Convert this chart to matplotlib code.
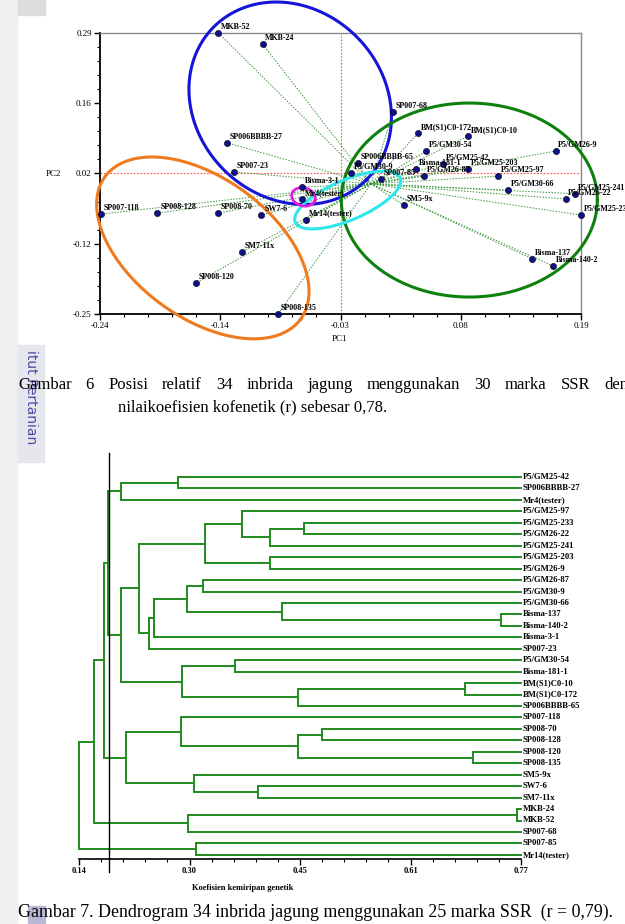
import numpy as np
import matplotlib.pyplot as plt
from matplotlib.patches import Rectangle

# ---- Gambar 6: PCA scatter ----
pca_names = [
    "MKB-52", "MKB-24", "SP006BBBB-27", "SP007-23", "SP007-118", "SP008-128",
    "SP008-70", "SW7-6", "SM7-11x", "SP008-120", "SP008-135", "Bisma-3-1",
    "Mr4(tester)", "Mr14(tester)", "SP007-68", "BM(S1)C0-172", "BM(S1)C0-10",
    "P5/GM30-54", "P5/GM26-9", "SP006BBBB-65", "P5/GM30-9", "Bisma-181-1",
    "P5/GM25-42", "P5/GM25-203", "P5/GM26-87", "SP007-85", "P5/GM25-97",
    "P5/GM30-66", "P5/GM25-241", "P5/GM26-22", "P5/GM25-233", "SM5-9x",
    "Bisma-137", "Bisma-140-2",
]
pc1 = [
    -0.138, -0.098, -0.130, -0.124, -0.244, -0.193,
    -0.138, -0.099, -0.117, -0.158, -0.084, -0.062,
    -0.062, -0.059, 0.020, 0.043, 0.088,
    0.050, 0.167, -0.012, -0.018, 0.041,
    0.065, 0.088, 0.048, 0.009, 0.115,
    0.124, 0.185, 0.176, 0.190, 0.030,
    0.146, 0.165,
]
pc2 = [
    0.290, 0.269, 0.079, 0.023, -0.058, -0.056,
    -0.056, -0.060, -0.131, -0.190, -0.250, -0.006,
    -0.029, -0.069, 0.138, 0.098, 0.092,
    0.063, 0.063, 0.040, 0.021, 0.029,
    0.038, 0.029, 0.015, 0.009, 0.015,
    -0.012, -0.019, -0.029, -0.060, -0.041,
    -0.144, -0.158,
]
pca_xlabels = ["-0.24", "-0.14", "-0.03", "0.08", "0.19"]
pca_ylabels = ["-0.25", "-0.12", "0.02", "0.16", "0.29"]

# ---- Gambar 7: dendrogram ----
leaves = [
    "P5/GM25-42", "SP006BBBB-27", "Mr4(tester)", "P5/GM25-97", "P5/GM25-233",
    "P5/GM26-22", "P5/GM25-241", "P5/GM25-203", "P5/GM26-9", "P5/GM26-87",
    "P5/GM30-9", "P5/GM30-66", "Bisma-137", "Bisma-140-2", "Bisma-3-1",
    "SP007-23", "P5/GM30-54", "Bisma-181-1", "BM(S1)C0-10", "BM(S1)C0-172",
    "SP006BBBB-65", "SP007-118", "SP008-70", "SP008-128", "SP008-120",
    "SP008-135", "SM5-9x", "SW7-6", "SM7-11x", "MKB-24", "MKB-52",
    "SP007-68", "SP007-85", "Mr14(tester)",
]
# (child a, child b, similarity); node ids >= 34 are earlier merges
merges = [
    (0, 1, 0.281), (34, 2, 0.200), (4, 5, 0.461), (36, 6, 0.412),
    (3, 37, 0.373), (7, 8, 0.412), (38, 39, 0.320), (9, 10, 0.317),
    (12, 13, 0.741), (11, 42, 0.430), (41, 43, 0.2935), (44, 14, 0.247),
    (45, 15, 0.240), (40, 46, 0.225), (16, 17, 0.362), (18, 19, 0.690),
    (49, 20, 0.4525), (48, 50, 0.287), (47, 51, 0.200), (35, 52, 0.182),
    (22, 23, 0.486), (24, 25, 0.701), (54, 55, 0.4525), (21, 56, 0.286),
    (27, 28, 0.395), (26, 58, 0.304), (57, 59, 0.2065), (53, 60, 0.175),
    (29, 30, 0.765), (62, 31, 0.295), (61, 63, 0.162), (32, 33, 0.307),
    (64, 65, 0.140),
]
cut_value = 0.183
sim_labels = ["0.14", "0.30", "0.45", "0.61", "0.77"]

caption6_line1 = "Gambar 6 Posisi relatif 34 inbrida jagung menggunakan 30 marka SSR dengan"
caption6_line2 = "nilaikoefisien kofenetik (r) sebesar 0,78."
caption7 = "Gambar 7. Dendrogram 34 inbrida jagung menggunakan 25 marka SSR  (r = 0,79)."

W, H = 625, 924
SERIF = "Liberation Serif"


def fig_box(x0, y0, x1, y1):
    return [x0 / W, 1 - y1 / H, (x1 - x0) / W, (y1 - y0) / H]


def ring(ax, cx, cy, a, b, ang, color, lw=2.2):
    # ellipse sized in pixels, placed at a data centre
    t = np.linspace(0, 2 * np.pi, 300)
    r = np.deg2rad(ang)
    dx = a * np.cos(t) * np.cos(r) - b * np.sin(t) * np.sin(r)
    dy = a * np.cos(t) * np.sin(r) + b * np.sin(t) * np.cos(r)
    x0, x1 = ax.get_xlim()
    y0, y1 = ax.get_ylim()
    sx = (x1 - x0) / ax.bbox.width
    sy = (y1 - y0) / ax.bbox.height
    ax.plot(cx + dx * sx, cy + dy * sy, color=color, lw=lw, clip_on=False, zorder=4)


fig = plt.figure(figsize=(W / 100, H / 100), dpi=100)

# page decorations (scan strip on the left)
fig.add_artist(Rectangle((0, 0), 17 / W, 1, transform=fig.transFigure,
                         color="#efefef", zorder=0))
fig.add_artist(Rectangle((18 / W, 1 - 15 / H), 27 / W, 15 / H, transform=fig.transFigure,
                         color="#dcdcdc", zorder=0))
fig.add_artist(Rectangle((18 / W, 1 - 462 / H), 26 / W, 117 / H, transform=fig.transFigure,
                         color="#e6e6ee", zorder=0))
fig.text(31 / W, 1 - 350 / H, "itut Pertanian", rotation=-90, ha="center", va="top",
         fontsize=10, color="#4b4ba8", family="DejaVu Sans", zorder=0)
fig.add_artist(Rectangle((28 / W, 0), 17 / W, 18 / H, transform=fig.transFigure,
                         color="#b9b9d6", zorder=0))

# ---- PCA panel ----
ax = fig.add_axes(fig_box(100, 33, 581, 314))
ax.set_xlim(-0.245, 0.19)
ax.set_ylim(-0.25, 0.29)
xt = np.linspace(-0.245, 0.19, 5)
yt = np.linspace(-0.25, 0.29, 5)
ax.set_xticks(xt)
ax.set_xticklabels(pca_xlabels)
ax.set_yticks(yt)
ax.set_yticklabels(pca_ylabels)
ax.set_xticks(np.linspace(-0.245, 0.19, 21), minor=True)
ax.set_yticks(np.linspace(-0.25, 0.29, 21), minor=True)
ax.tick_params(which="major", length=4, width=1, pad=2, labelsize=6.5)
ax.tick_params(which="minor", length=2.2, width=0.8)
for lab in ax.get_xticklabels() + ax.get_yticklabels():
    lab.set_family(SERIF)
for s in ["left", "bottom"]:
    ax.spines[s].set_linewidth(1.3)
for s in ["top", "right"]:
    ax.spines[s].set_color("#8a8a8a")
    ax.spines[s].set_linewidth(1)

ax.axvline(xt[2], color="#ff5050", ls=(0, (1.5, 1.5)), lw=0.8, zorder=1)
ax.axhline(yt[2], color="#ff5050", ls=(0, (1.5, 1.5)), lw=0.8, zorder=1)

for x, y in zip(pc1, pc2):
    ax.plot([0, x], [0, y], color="#3c963c", ls=(0, (1.5, 1.5)), lw=0.7, zorder=2)
ax.scatter(pc1, pc2, s=20, color="#10108a", edgecolors="black", linewidths=0.4,
           zorder=5, clip_on=False)
for name, x, y in zip(pca_names, pc1, pc2):
    ax.annotate(name, (x, y), xytext=(2, 3), textcoords="offset points",
                fontsize=5.8, fontweight="bold", family=SERIF, va="baseline",
                ha="left", zorder=6, annotation_clip=False)

ring(ax, -0.073, 0.155, 108, 94, -45, "#1515d8")
ring(ax, -0.152, -0.123, 121, 70, -36, "#f07a1e")
ring(ax, 0.089, -0.031, 128, 97, 0, "#0e800e")
ring(ax, -0.021, -0.031, 57, 20, 23, "#2ee6ec")
ring(ax, -0.061, -0.025, 12, 9, -15, "#e01ee0", lw=2)

fig.text(340 / W, 1 - 339 / H, "PC1", ha="center", va="center", fontsize=6.5, family=SERIF)
fig.text(53 / W, 1 - 174 / H, "PC2", ha="center", va="center", fontsize=6.5, family=SERIF)

# ---- dendrogram panel ----
row_px = 11.45
top_px, bot_px = 445, 859
ax2 = fig.add_axes(fig_box(79, top_px, 521, bot_px))
ax2.set_xlim(0.14, 0.77)
ax2.set_ylim((bot_px - 477) / row_px, (top_px - 477) / row_px)
for s in ["left", "right", "top"]:
    ax2.spines[s].set_visible(False)
ax2.spines["bottom"].set_linewidth(1.2)
ax2.set_yticks([])
ax2.set_xticks(np.linspace(0.14, 0.77, 5))
ax2.set_xticklabels(sim_labels)
ax2.set_xticks(np.linspace(0.14, 0.77, 21), minor=True)
ax2.tick_params(which="major", length=4, width=1, pad=2, labelsize=6)
ax2.tick_params(which="minor", length=2.5, width=0.8)
for lab in ax2.get_xticklabels():
    lab.set_family(SERIF)
    lab.set_fontweight("bold")

pos = {i: (0.77, float(i)) for i in range(len(leaves))}
for k, (a, b, h) in enumerate(merges):
    xa, ya = pos[a]
    xb, yb = pos[b]
    ax2.plot([xa, h, h, xb], [ya, ya, yb, yb], color="#1f8c1f", lw=1.4,
             solid_joinstyle="miter", clip_on=False)
    pos[len(leaves) + k] = (h, (ya + yb) / 2)

for i, name in enumerate(leaves):
    ax2.annotate(name, (0.77, i), xytext=(1, 0), textcoords="offset points",
                 fontsize=6.2, fontweight="bold", family=SERIF, va="center",
                 ha="left", annotation_clip=False)

ax2.plot([cut_value, cut_value], [(453 - 477) / row_px, (872 - 477) / row_px],
         color="black", lw=1, clip_on=False, zorder=3)

fig.text(243 / W, 1 - 888 / H, "Koefisien kemiripan genetik", ha="center", va="center",
         fontsize=6, fontweight="bold", family=SERIF)

# ---- captions ----
fig.canvas.draw()
rend = fig.canvas.get_renderer()
words = caption6_line1.split()
texts = [fig.text(0, 1 - 385 / H, w, fontsize=12, family=SERIF, va="center", ha="left")
         for w in words]
widths = [t.get_window_extent(rend).width for t in texts]
span_end = 652
gap = (span_end - 18 - sum(widths)) / (len(words) - 1)
xcur = 18
for t, w in zip(texts, widths):
    t.set_x(xcur / W)
    xcur += w + gap
fig.text(118 / W, 1 - 407 / H, caption6_line2, fontsize=12, family=SERIF, va="center")
fig.text(18 / W, 1 - 912 / H, caption7, fontsize=12.9, family=SERIF, va="center")

fig.savefig("out.png", dpi=100)
